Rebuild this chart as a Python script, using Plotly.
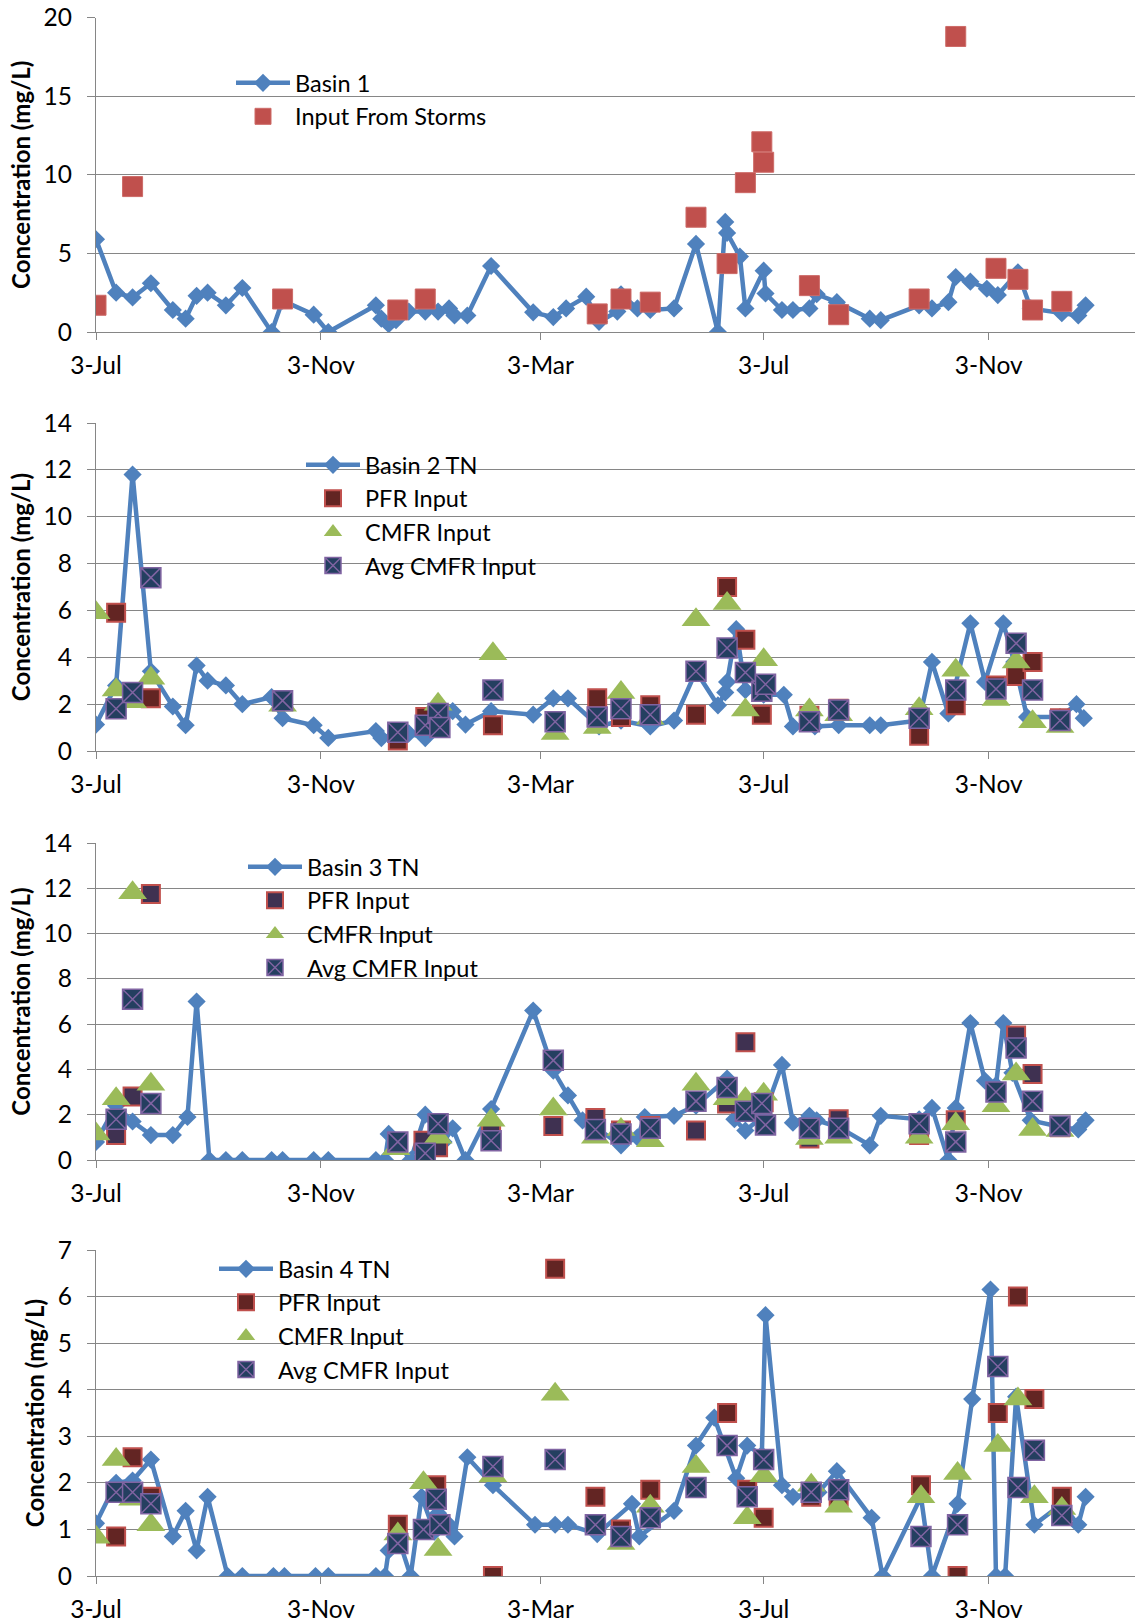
import plotly.graph_objects as go

# ---------------------------------------------------------------- data
AXIS_START = "2012-07-03"
AXIS_END = "2014-01-22"
TICK_DATES = ["2012-07-03", "2012-11-03", "2013-03-03", "2013-07-03", "2013-11-03"]

# Basin 1
b1_dates = ["2012-07-03", "2012-07-14", "2012-07-23", "2012-08-02", "2012-08-14", "2012-08-21", "2012-08-27",
            "2012-09-02", "2012-09-12", "2012-09-21", "2012-10-07", "2012-10-13", "2012-10-30", "2012-11-07",
            "2012-12-03", "2012-12-06", "2012-12-10", "2012-12-14", "2012-12-21", "2012-12-30", "2013-01-06",
            "2013-01-12", "2013-01-15", "2013-01-22", "2013-02-04", "2013-02-27", "2013-03-10", "2013-03-17",
            "2013-03-28", "2013-04-04", "2013-04-14", "2013-04-16", "2013-04-25", "2013-05-02", "2013-05-15",
            "2013-05-27", "2013-06-08", "2013-06-12", "2013-06-13", "2013-06-20", "2013-06-23", "2013-07-03",
            "2013-07-04", "2013-07-13", "2013-07-19", "2013-07-28", "2013-08-01", "2013-08-12", "2013-08-30",
            "2013-09-05", "2013-09-26", "2013-10-03", "2013-10-12", "2013-10-16", "2013-10-24", "2013-11-02",
            "2013-11-08", "2013-11-19", "2013-11-26", "2013-12-13", "2013-12-22", "2013-12-26"]
b1_vals = [5.9, 2.5, 2.2, 3.1, 1.4, 0.85, 2.3, 2.5, 1.7, 2.8, 0, 2.0, 1.1, 0, 1.7, 0.85, 0.5, 0.75, 1.3, 1.3,
           1.3, 1.5, 1.05, 1.05, 4.2, 1.25, 0.95, 1.5, 2.25, 0.65, 1.3, 2.4, 1.5, 1.4, 1.5, 5.6, 0, 7.0, 6.3,
           4.8, 1.5, 3.9, 2.45, 1.4, 1.4, 1.5, 2.4, 1.9, 0.85, 0.75, 1.7, 1.5, 1.9, 3.5, 3.2, 2.75, 2.35, 3.8,
           1.5, 1.2, 1.05, 1.7]
storm_dates = ["2012-07-03", "2012-07-23", "2012-10-13", "2012-12-15", "2012-12-30", "2013-04-03", "2013-04-16",
               "2013-05-02", "2013-05-27", "2013-06-13", "2013-06-23", "2013-07-02", "2013-07-03", "2013-07-28",
               "2013-08-13", "2013-09-26", "2013-10-16", "2013-11-07", "2013-11-19", "2013-11-27", "2013-12-13"]
storm_vals = [1.7, 9.25, 2.1, 1.4, 2.1, 1.15, 2.1, 1.9, 7.3, 4.35, 9.5, 12.1, 10.8, 2.95, 1.1, 2.1, 18.8, 4.05,
              3.35, 1.4, 1.95]

# Basin 2
b2_dates = ["2012-07-03", "2012-07-14", "2012-07-23", "2012-08-02", "2012-08-14", "2012-08-21", "2012-08-27",
            "2012-09-02", "2012-09-12", "2012-09-21", "2012-10-07", "2012-10-13", "2012-10-30", "2012-11-07",
            "2012-12-03", "2012-12-06", "2012-12-14", "2012-12-21", "2012-12-30", "2013-01-06", "2013-01-14",
            "2013-01-21", "2013-02-04", "2013-02-27", "2013-03-10", "2013-03-18", "2013-04-04", "2013-04-16",
            "2013-05-02", "2013-05-15", "2013-05-27", "2013-06-08", "2013-06-12", "2013-06-13", "2013-06-18",
            "2013-06-23", "2013-07-03", "2013-07-14", "2013-07-19", "2013-07-31", "2013-08-13", "2013-08-30",
            "2013-09-05", "2013-09-26", "2013-10-03", "2013-10-12", "2013-10-24", "2013-11-01", "2013-11-11",
            "2013-11-17", "2013-11-24", "2013-12-12", "2013-12-21", "2013-12-25"]
b2_vals = [1.13, 2.8, 11.8, 3.4, 1.9, 1.1, 3.65, 3.0, 2.8, 2.0, 2.3, 1.4, 1.1, 0.56, 0.85, 0.55, 0.75, 0.75,
           0.55, 1.1, 1.7, 1.13, 1.7, 1.55, 2.25, 2.25, 1.05, 1.3, 1.05, 1.3, 3.4, 1.95, 2.5, 2.95, 5.2, 2.6,
           2.4, 2.4, 1.05, 1.05, 1.1, 1.1, 1.1, 1.3, 3.8, 1.6, 5.45, 2.95, 5.45, 3.8, 1.45, 1.45, 2.0, 1.4]
p2_dates = ["2012-07-14", "2012-08-02", "2012-12-15", "2012-12-30", "2013-02-05", "2013-04-03", "2013-04-16",
            "2013-05-02", "2013-05-27", "2013-06-13", "2013-06-23", "2013-07-02", "2013-07-28", "2013-08-13",
            "2013-09-26", "2013-10-16", "2013-11-07", "2013-11-18", "2013-11-27", "2013-12-12"]
p2_vals = [5.9, 2.25, 0.45, 1.45, 1.1, 2.25, 1.45, 1.95, 1.55, 7.0, 4.75, 1.55, 1.5, 1.8, 0.65, 1.95, 2.8, 3.2,
           3.8, 1.4]
c2_dates = ["2012-07-03", "2012-07-14", "2012-07-23", "2012-08-02", "2012-10-13", "2013-01-06", "2013-02-05",
            "2013-03-11", "2013-04-03", "2013-04-16", "2013-05-02", "2013-05-27", "2013-06-13", "2013-06-23",
            "2013-07-03", "2013-07-28", "2013-08-13", "2013-09-26", "2013-10-16", "2013-11-07", "2013-11-18",
            "2013-11-27", "2013-12-12"]
c2_vals = [5.9, 2.6, 2.1, 3.1, 1.95, 2.0, 4.15, 0.75, 1.0, 2.5, 1.4, 5.6, 6.3, 1.75, 3.9, 1.75, 1.55, 1.8, 3.45,
           2.2, 3.8, 1.25, 1.05]
a2_dates = ["2012-07-14", "2012-07-23", "2012-08-02", "2012-10-13", "2012-12-15", "2012-12-30", "2013-01-06",
            "2013-01-07", "2013-02-05", "2013-03-11", "2013-04-03", "2013-04-16", "2013-05-02", "2013-05-27",
            "2013-06-13", "2013-06-23", "2013-07-02", "2013-07-04", "2013-07-28", "2013-08-13", "2013-09-26",
            "2013-10-16", "2013-11-07", "2013-11-18", "2013-11-27", "2013-12-12"]
a2_vals = [1.8, 2.5, 7.4, 2.15, 0.8, 1.1, 1.6, 1.0, 2.6, 1.25, 1.45, 1.8, 1.55, 3.4, 4.4, 3.35, 2.55, 2.85, 1.25,
           1.75, 1.4, 2.6, 2.65, 4.6, 2.6, 1.3]

# Basin 3
b3_dates = ["2012-07-03", "2012-07-14", "2012-07-23", "2012-08-02", "2012-08-14", "2012-08-22", "2012-08-27",
            "2012-09-03", "2012-09-12", "2012-09-21", "2012-10-07", "2012-10-13", "2012-10-30", "2012-11-07",
            "2012-12-03", "2012-12-08", "2012-12-10", "2012-12-14", "2012-12-22", "2012-12-30", "2013-01-06",
            "2013-01-09", "2013-01-14", "2013-01-21", "2013-02-04", "2013-02-27", "2013-03-10", "2013-03-18",
            "2013-03-26", "2013-04-02", "2013-04-16", "2013-04-25", "2013-04-29", "2013-05-15", "2013-05-27",
            "2013-06-13", "2013-06-17", "2013-06-23", "2013-07-03", "2013-07-13", "2013-07-19", "2013-07-28",
            "2013-08-01", "2013-08-13", "2013-08-30", "2013-09-05", "2013-09-26", "2013-10-03", "2013-10-12",
            "2013-10-16", "2013-10-24", "2013-11-01", "2013-11-07", "2013-11-11", "2013-11-16", "2013-11-26",
            "2013-12-13", "2013-12-22", "2013-12-26"]
b3_vals = [0.8, 2.4, 1.7, 1.1, 1.1, 1.9, 7.0, 0, 0, 0, 0, 0, 0, 0, 0, 0, 1.15, 0.85, 0, 2.0, 1.1, 0.8, 1.4, 0,
           2.25, 6.6, 3.95, 2.85, 1.75, 1.45, 0.65, 1.0, 1.9, 1.95, 2.4, 3.6, 1.8, 1.3, 1.95, 4.2, 1.65, 1.95,
           1.75, 1.45, 0.65, 1.95, 1.8, 2.3, 0, 2.3, 6.05, 3.5, 3.3, 6.05, 3.85, 1.75, 1.45, 1.35, 1.75]
p3_dates = ["2012-07-14", "2012-07-23", "2012-08-02", "2012-12-29", "2013-01-06", "2013-02-04", "2013-03-10",
            "2013-04-02", "2013-04-16", "2013-05-02", "2013-05-27", "2013-06-13", "2013-06-23", "2013-07-03",
            "2013-07-28", "2013-08-13", "2013-09-26", "2013-10-16", "2013-11-18", "2013-11-27", "2013-12-12"]
p3_vals = [1.1, 2.8, 11.75, 0.85, 0.56, 1.2, 1.5, 1.85, 1.3, 1.5, 1.3, 2.5, 5.2, 2.55, 0.95, 1.8, 1.1, 1.75, 5.5,
           3.8, 1.45]
c3_dates = ["2012-07-03", "2012-07-14", "2012-07-23", "2012-08-02", "2012-12-14", "2013-01-06", "2013-02-04",
            "2013-03-10", "2013-04-02", "2013-04-16", "2013-05-02", "2013-05-27", "2013-06-13", "2013-06-23",
            "2013-07-03", "2013-07-28", "2013-08-13", "2013-09-26", "2013-10-16", "2013-11-07", "2013-11-18",
            "2013-11-27", "2013-12-12"]
c3_vals = [1.15, 2.7, 11.8, 3.35, 0.5, 1.0, 1.75, 2.25, 1.0, 1.35, 0.85, 3.35, 2.7, 2.7, 2.9, 0.95, 1.0, 1.0, 1.6,
           2.4, 3.8, 1.35, 1.3]
a3_dates = ["2012-07-14", "2012-07-23", "2012-08-02", "2012-12-15", "2012-12-30", "2013-01-06", "2013-02-04",
            "2013-03-10", "2013-04-02", "2013-04-16", "2013-05-02", "2013-05-27", "2013-06-13", "2013-06-23",
            "2013-07-02", "2013-07-04", "2013-07-28", "2013-08-13", "2013-09-26", "2013-10-16", "2013-11-07",
            "2013-11-18", "2013-11-27", "2013-12-12"]
a3_vals = [1.8, 7.1, 2.5, 0.8, 0.3, 1.6, 0.85, 4.4, 1.35, 1.15, 1.4, 2.6, 3.2, 2.15, 2.5, 1.55, 1.4, 1.4, 1.6, 0.8,
           3.0, 4.95, 2.6, 1.5]

# Basin 4
b4_dates = ["2012-07-03", "2012-07-14", "2012-07-23", "2012-08-02", "2012-08-14", "2012-08-21", "2012-08-27",
            "2012-09-02", "2012-09-13", "2012-09-21", "2012-10-08", "2012-10-14", "2012-10-31", "2012-11-07",
            "2012-12-03", "2012-12-08", "2012-12-10", "2012-12-15", "2012-12-22", "2012-12-28", "2013-01-04",
            "2013-01-06", "2013-01-12", "2013-01-15", "2013-01-22", "2013-02-05", "2013-02-28", "2013-03-11",
            "2013-03-18", "2013-04-03", "2013-04-22", "2013-04-26", "2013-05-15", "2013-05-27", "2013-06-06",
            "2013-06-18", "2013-06-24", "2013-07-02", "2013-07-04", "2013-07-13", "2013-07-19", "2013-08-02",
            "2013-08-12", "2013-08-31", "2013-09-06", "2013-09-27", "2013-10-03", "2013-10-17", "2013-10-25",
            "2013-11-04", "2013-11-07", "2013-11-12", "2013-11-18", "2013-11-28", "2013-12-13", "2013-12-22",
            "2013-12-26"]
b4_vals = [1.13, 2.0, 2.05, 2.5, 0.85, 1.4, 0.55, 1.7, 0, 0, 0, 0, 0, 0, 0, 0, 0.55, 0.85, 0, 1.7, 0.95, 1.35,
           1.1, 0.85, 2.55, 1.95, 1.1, 1.1, 1.1, 0.9, 1.55, 0.85, 1.4, 2.8, 3.4, 2.1, 2.8, 2.6, 5.6, 1.95, 1.7,
           1.8, 2.25, 1.25, 0, 1.7, 0, 1.55, 3.8, 6.15, 0, 0, 3.85, 1.1, 1.55, 1.1, 1.7]
p4_dates = ["2012-07-14", "2012-07-23", "2012-08-02", "2012-12-15", "2013-01-05", "2013-02-05", "2013-03-11",
            "2013-04-02", "2013-04-16", "2013-05-02", "2013-05-27", "2013-06-13", "2013-06-24", "2013-07-03",
            "2013-07-29", "2013-08-13", "2013-09-27", "2013-10-17", "2013-11-08", "2013-11-19", "2013-11-28",
            "2013-12-13"]
p4_vals = [0.85, 2.55, 1.7, 1.1, 1.95, 0, 6.6, 1.7, 1.0, 1.85, 1.9, 3.5, 1.85, 1.25, 1.7, 1.7, 1.95, 0, 3.5, 6.0,
           3.8, 1.7]
c4_dates = ["2012-07-03", "2012-07-14", "2012-07-23", "2012-08-02", "2012-12-15", "2012-12-29", "2013-01-06",
            "2013-02-05", "2013-03-11", "2013-04-16", "2013-05-02", "2013-05-27", "2013-06-24", "2013-07-03",
            "2013-07-29", "2013-08-13", "2013-09-27", "2013-10-17", "2013-11-08", "2013-11-19", "2013-11-28",
            "2013-12-13"]
c4_vals = [0.83, 2.5, 1.65, 1.1, 0.9, 2.0, 0.57, 2.15, 3.9, 0.7, 1.5, 2.35, 1.25, 2.15, 1.95, 1.5, 1.7, 2.2, 2.8,
           3.8, 1.7, 1.45]
a4_dates = ["2012-07-14", "2012-07-23", "2012-08-02", "2012-12-15", "2012-12-29", "2013-01-05", "2013-01-07",
            "2013-02-05", "2013-03-11", "2013-04-02", "2013-04-16", "2013-05-02", "2013-05-27", "2013-06-13",
            "2013-06-24", "2013-07-03", "2013-07-29", "2013-08-13", "2013-09-27", "2013-10-17", "2013-11-08",
            "2013-11-19", "2013-11-28", "2013-12-13"]
a4_vals = [1.8, 1.8, 1.55, 0.7, 1.0, 1.65, 1.1, 2.35, 2.5, 1.1, 0.85, 1.25, 1.9, 2.8, 1.7, 2.5, 1.8, 1.85, 0.85,
           1.1, 4.5, 1.9, 2.7, 1.3]

# ---------------------------------------------------------------- styling
W, H = 1135, 1622
LEFT = 96
FONT = "Lato"
FS = 24.5
LEGEND_FS = 23.5
BLUE = "#4F81BD"
RED = "#C0504D"
GREEN = "#9BBB59"
NAVY = "#243F60"
PURPLE = "#8064A2"
GRID = "#868686"

fig = go.Figure()


def basin_trace(x, y, name, legend, axis):
    return go.Scatter(x=x, y=y, name=name, mode="lines+markers", legend=legend,
                      xaxis="x" + axis, yaxis="y" + axis,
                      line=dict(color=BLUE, width=4.5),
                      marker=dict(symbol="diamond", size=14, color=BLUE))


def pfr_trace(x, y, fill, legend, axis):
    return go.Scatter(x=x, y=y, name="PFR Input", mode="markers", legend=legend,
                      xaxis="x" + axis, yaxis="y" + axis,
                      marker=dict(symbol="square", size=18, color=fill, line=dict(color=RED, width=2)))


def cmfr_trace(x, y, legend, axis):
    return go.Scatter(x=x, y=y, name="CMFR Input", mode="markers", legend=legend,
                      xaxis="x" + axis, yaxis="y" + axis,
                      marker=dict(symbol="triangle-up", size=25, color=GREEN))


def avg_trace(x, y, legend, axis):
    return go.Scatter(x=x, y=y, name="Avg CMFR Input", mode="markers", legend=legend,
                      xaxis="x" + axis, yaxis="y" + axis,
                      marker=dict(symbol="square-x", size=20, color=NAVY, line=dict(color=PURPLE, width=1.5)))


# panel 1
fig.add_trace(basin_trace(b1_dates, b1_vals, "Basin 1", "legend", ""))
fig.add_trace(go.Scatter(x=storm_dates, y=storm_vals, name="Input From Storms", mode="markers",
                         legend="legend", xaxis="x", yaxis="y",
                         marker=dict(symbol="square", size=20, color=RED, line=dict(color="#CD6A67", width=1))))
# panel 2
fig.add_trace(basin_trace(b2_dates, b2_vals, "Basin 2 TN", "legend2", "2"))
fig.add_trace(pfr_trace(p2_dates, p2_vals, "#632523", "legend2", "2"))
fig.add_trace(cmfr_trace(c2_dates, c2_vals, "legend2", "2"))
fig.add_trace(avg_trace(a2_dates, a2_vals, "legend2", "2"))
# panel 3
fig.add_trace(basin_trace(b3_dates, b3_vals, "Basin 3 TN", "legend3", "3"))
fig.add_trace(pfr_trace(p3_dates, p3_vals, "#3F3151", "legend3", "3"))
fig.add_trace(cmfr_trace(c3_dates, c3_vals, "legend3", "3"))
fig.add_trace(avg_trace(a3_dates, a3_vals, "legend3", "3"))
# panel 4
fig.add_trace(basin_trace(b4_dates, b4_vals, "Basin 4 TN", "legend4", "4"))
fig.add_trace(pfr_trace(p4_dates, p4_vals, "#632523", "legend4", "4"))
fig.add_trace(cmfr_trace(c4_dates, c4_vals, "legend4", "4"))
fig.add_trace(avg_trace(a4_dates, a4_vals, "legend4", "4"))

# pixel extents (top, bottom) of each plot area and its y scale
panels = [
    (17.6, 332, 20, 5),
    (423, 751, 14, 2),
    (843, 1160, 14, 2),
    (1250, 1576, 7, 1),
]
# legend boxes: left and top in pixels
legend_pos = [(231, 61), (301, 443), (243, 845), (214, 1247)]

layout = dict(
    width=W, height=H,
    margin=dict(l=LEFT, r=0, t=0, b=0, autoexpand=False),
    paper_bgcolor="white", plot_bgcolor="white",
    font=dict(family=FONT, size=FS, color="black"),
    showlegend=True,
)

for i, (top, bottom, ymax, dtick) in enumerate(panels):
    sfx = "" if i == 0 else str(i + 1)
    ydom = [1 - bottom / H, 1 - top / H]
    layout["xaxis" + sfx] = dict(
        domain=[0, 1], anchor="y" + sfx, type="date", automargin=False,
        range=[AXIS_START, AXIS_END],
        tickvals=TICK_DATES, tickformat="%-d-%b",
        showgrid=False, zeroline=False,
        showline=True, linecolor=GRID, linewidth=1.3,
        ticks="outside", ticklen=7, tickcolor=GRID, tickwidth=1.3,
        tickfont=dict(family=FONT, size=FS, color="black"),
        ticklabelstandoff=4,
    )
    layout["yaxis" + sfx] = dict(
        domain=ydom, anchor="x" + sfx, automargin=False,
        range=[0, ymax], dtick=dtick, tick0=0,
        showgrid=True, gridcolor=GRID, gridwidth=1.3,
        zeroline=False,
        showline=True, linecolor=GRID, linewidth=1.3,
        ticks="outside", ticklen=8, tickcolor=GRID, tickwidth=1.3,
        tickfont=dict(family=FONT, size=FS, color="black"),
        ticklabelstandoff=10,
        title=dict(text="Concentration (mg/L)", standoff=6,
                   font=dict(family=FONT, size=24, color="black", weight="bold")),
    )
    lx, ly = legend_pos[i]
    layout["legend" + sfx] = dict(
        x=(lx - LEFT) / (W - LEFT), y=1 - ly / H,
        xanchor="left", yanchor="top",
        bgcolor="rgba(0,0,0,0)", borderwidth=0,
        itemwidth=54, itemsizing="trace",
        font=dict(family=FONT, size=LEGEND_FS, color="black"),
    )

fig.update_layout(**layout)
fig.write_html("out.html")
